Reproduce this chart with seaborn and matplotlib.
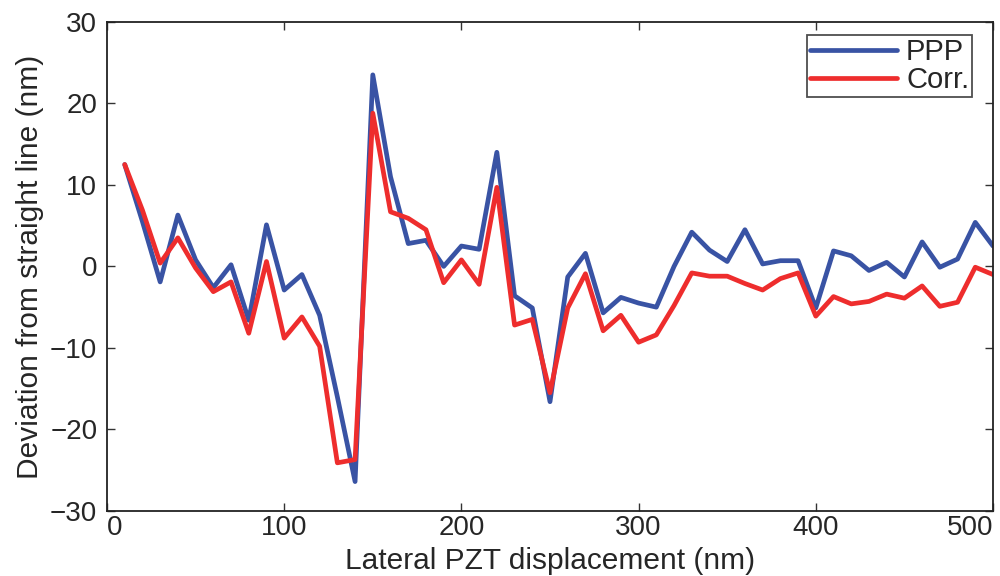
"""
Deviation from straight line vs lateral PZT displacement (PPP vs Corr.)
"""

import matplotlib
matplotlib.use("Agg")
import matplotlib.pyplot as plt
import seaborn as sns
import pandas as pd

# lateral displacement, nm
displacement = [10, 20, 30, 40, 50, 60, 70, 80, 90, 100,
                110, 120, 130, 140, 150, 160, 170, 180, 190, 200,
                210, 220, 230, 240, 250, 260, 270, 280, 290, 300,
                310, 320, 330, 340, 350, 360, 370, 380, 390, 400,
                410, 420, 430, 440, 450, 460, 470, 480, 490, 500]

ppp = [12.5, 5.5, -1.9, 6.3, 0.8, -2.6, 0.2, -6.6, 5.1, -2.9,
       -1.0, -6.0, -16.0, -26.4, 23.5, 11.0, 2.8, 3.2, 0.0, 2.5,
       2.1, 14.0, -3.6, -5.1, -16.6, -1.3, 1.6, -5.7, -3.8, -4.5,
       -5.0, 0.0, 4.2, 2.0, 0.6, 4.5, 0.3, 0.7, 0.7, -5.1,
       1.9, 1.3, -0.5, 0.5, -1.3, 3.0, -0.1, 0.9, 5.4, 2.5]

corr = [12.5, 6.9, 0.4, 3.5, -0.2, -3.1, -1.9, -8.2, 0.6, -8.8,
        -6.2, -9.8, -24.1, -23.7, 18.8, 6.7, 5.9, 4.5, -2.0, 0.8,
        -2.2, 9.7, -7.2, -6.5, -15.5, -5.1, -0.9, -7.9, -6.0, -9.3,
        -8.4, -4.8, -0.8, -1.2, -1.2, -2.1, -2.9, -1.5, -0.8, -6.1,
        -3.7, -4.6, -4.3, -3.4, -3.9, -2.4, -4.9, -4.4, -0.1, -1.0]

series_names = ["PPP", "Corr."]
colors = ["#3953a4", "#ee2d2d"]

df = pd.DataFrame({"x": displacement, "PPP": ppp, "Corr.": corr})
long_df = df.melt(id_vars="x", value_vars=series_names,
                  var_name="series", value_name="y")

sns.set_style("ticks")
plt.rcParams["font.family"] = ["Liberation Sans", "DejaVu Sans"]
plt.rcParams["xtick.direction"] = "in"
plt.rcParams["ytick.direction"] = "in"

fig = plt.figure(figsize=(10, 5.76), dpi=100)
ax = fig.add_axes([0.107, 0.113, 0.886, 0.849])

sns.lineplot(data=long_df, x="x", y="y", hue="series",
             hue_order=series_names, palette=colors,
             linewidth=3.4, ax=ax, legend=True)

ax.set_xlim(0, 500)
ax.set_ylim(-30, 30)
ax.set_xticks([0, 100, 200, 300, 400, 500])
ax.set_yticks([-30, -20, -10, 0, 10, 20, 30])
ax.set_xticklabels(["0", "100", "200", "300", "400", "500"])
ax.set_yticklabels(["\u221230", "\u221220", "\u221210", "0", "10", "20", "30"])
ax.tick_params(axis="both", which="both", top=True, right=True,
               length=6, width=1.0, color="#333333", labelsize=20)
ax.tick_params(axis="x", pad=3)
ax.tick_params(axis="y", pad=7)
ax.get_xticklabels()[-1].set_ha("right")
ax.get_xticklabels()[0].set_ha("left")
for side in ["left", "right", "top", "bottom"]:
    ax.spines[side].set_visible(True)
    ax.spines[side].set_color("#222222")
    ax.spines[side].set_linewidth(1.3)

ax.set_xlabel("Lateral PZT displacement (nm)", fontsize=21.5, labelpad=4)
ax.set_ylabel("Deviation from straight line (nm)", fontsize=21.5, labelpad=4)

leg = ax.legend(loc="upper right", bbox_to_anchor=(0.983, 0.985),
                fontsize=21, frameon=True, fancybox=False,
                edgecolor="#222222", handlelength=3.0,
                borderpad=0.1, labelspacing=0.0, handletextpad=0.3,
                borderaxespad=0.2)
leg.get_frame().set_linewidth(1.3)

fig.savefig("out.png", dpi=100)
